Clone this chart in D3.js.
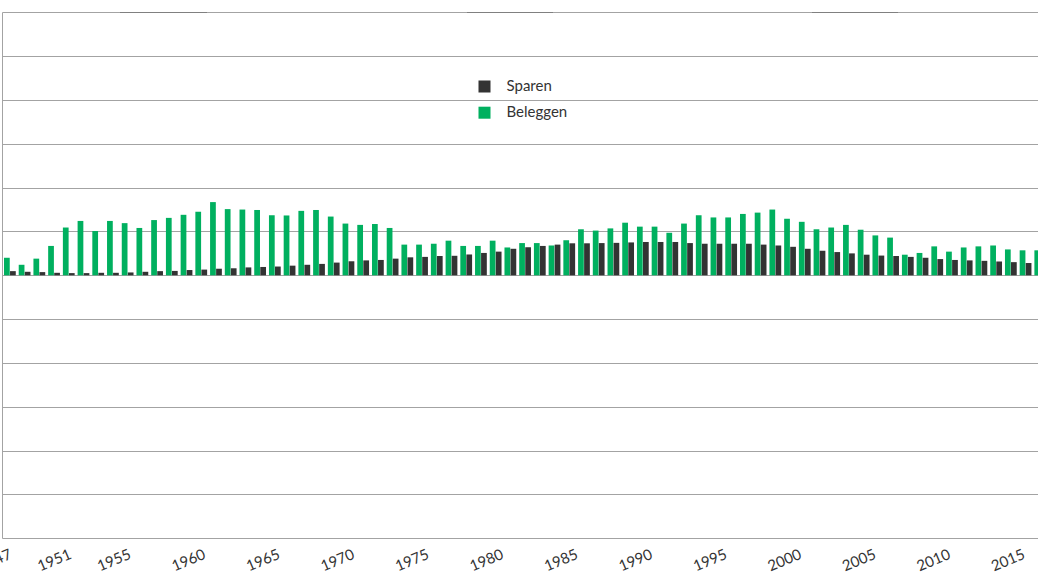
<!DOCTYPE html>
<html>
<head>
<meta charset="utf-8">
<script src="https://cdn.jsdelivr.net/npm/d3@7"></script>
<style>
  html, body { margin: 0; padding: 0; background: #fff; }
  svg { display: block; }
</style>
</head>
<body>
<svg id="chart" width="1038" height="576"></svg>
<script>
// ---- data ----
const years = [1947,1948,1949,1950,1951,1952,1953,1954,1955,1956,1957,1958,1959,1960,
  1961,1962,1963,1964,1965,1966,1967,1968,1969,1970,1971,1972,1973,1974,1975,1976,
  1977,1978,1979,1980,1981,1982,1983,1984,1985,1986,1987,1988,1989,1990,1991,1992,
  1993,1994,1995,1996,1997,1998,1999,2000,2001,2002,2003,2004,2005,2006,2007,2008,
  2009,2010,2011,2012,2013,2014,2015,2016,2017];
const sparen = [0.95,0.8,0.73,0.57,0.5,0.5,0.57,0.57,0.65,0.8,0.95,1.0,1.2,1.3,1.5,1.6,1.8,1.9,
  2.0,2.2,2.4,2.6,2.9,3.2,3.4,3.5,3.8,4.1,4.2,4.4,4.45,4.75,5.1,5.4,6.05,6.4,6.7,7.0,7.3,7.3,
  7.35,7.4,7.5,7.6,7.6,7.6,7.35,7.2,7.2,7.2,7.2,7.0,6.8,6.5,6.05,5.6,5.3,5.0,4.7,4.5,4.4,4.2,
  4.0,3.7,3.5,3.4,3.3,3.15,3.0,2.8,2.7];
const beleggen = [4.0,2.4,3.8,6.7,10.9,12.4,10.1,12.4,11.9,10.8,12.6,13.1,13.8,14.5,16.7,15.1,
  15.0,14.9,13.7,13.65,14.7,14.9,13.4,11.8,11.5,11.7,10.8,7.0,7.0,7.2,7.9,6.7,6.7,7.9,6.35,
  7.35,7.35,6.8,8.0,10.5,10.2,10.7,12.0,11.1,11.1,9.7,11.8,13.7,13.2,13.2,14.0,14.3,15.0,12.9,
  12.2,10.5,10.9,11.5,10.4,9.1,8.6,4.7,5.1,6.6,5.4,6.35,6.6,6.8,5.9,5.7,5.7];
const seriesNames = ["Beleggen", "Sparen"];
const legendNames = ["Sparen", "Beleggen"];
const tickYears = [1947,1951,1955,1960,1965,1970,1975,1980,1985,1990,1995,2000,2005,2010,2015];
const yTicks = [-60,-50,-40,-30,-20,-10,0,10,20,30,40,50,60];

// ---- style ----
const colors = { Sparen: "#333333", Beleggen: "#00b05f" };
const gridColor = "#a3a3a3";

const svg = d3.select("#chart");

// scales
const plotTop = 12.3, plotBottom = 538.3, plotLeft = 2.5, plotRight = 1038;
const y = d3.scaleLinear().domain([-60, 60]).range([plotBottom, plotTop]);

const step = 14.72, padIn = 0.18;
const x0 = d3.scaleBand().domain(years)
  .range([4, 4 + step * (years.length - padIn)])
  .paddingInner(padIn).paddingOuter(0);
const x1 = d3.scaleBand().domain(seriesNames).range([0, x0.bandwidth()]).padding(0);

const xYear = d3.scaleLinear().domain([1960, 2015]).range([206, 206 + 55 * 14.9]);

// grid
svg.append("g").selectAll("line").data(yTicks).join("line")
  .attr("x1", plotLeft).attr("x2", plotRight)
  .attr("y1", d => Math.round(y(d)) + 0.5).attr("y2", d => Math.round(y(d)) + 0.5)
  .attr("stroke", gridColor).attr("stroke-width", 1);
svg.append("line")
  .attr("x1", plotLeft).attr("x2", plotLeft)
  .attr("y1", Math.round(y(60)) + 0.5).attr("y2", Math.round(y(-60)) + 0.5)
  .attr("stroke", gridColor).attr("stroke-width", 1);
// darker segments on the top rule
const topSegs = [[120, 207], [467, 553], [812, 898]];
svg.append("g").selectAll("line").data(topSegs).join("line")
  .attr("x1", d => d[0]).attr("x2", d => d[1])
  .attr("y1", Math.round(y(60)) + 0.5).attr("y2", Math.round(y(60)) + 0.5)
  .attr("stroke", "#808080").attr("stroke-width", 1);

// bars
const rows = years.map((yr, i) => ({ year: yr, Sparen: sparen[i], Beleggen: beleggen[i] }));
const groups = svg.append("g").selectAll("g").data(rows).join("g")
  .attr("transform", d => `translate(${x0(d.year)},0)`);
groups.selectAll("rect")
  .data(d => seriesNames.map(k => ({ key: k, value: d[k] })))
  .join("rect")
  .attr("x", d => x1(d.key))
  .attr("width", x1.bandwidth() - 0.3)
  .attr("y", d => y(Math.max(0, d.value)))
  .attr("height", d => Math.abs(y(d.value) - y(0)))
  .attr("fill", d => colors[d.key]);

// x axis labels
const axis = d3.axisBottom(xYear).tickValues(tickYears).tickSize(0).tickFormat(d3.format("d"));
const ax = svg.append("g").attr("transform", "translate(0,558)").call(axis);
ax.select(".domain").remove();
ax.selectAll("text")
  .attr("y", 0).attr("dy", 0)
  .attr("text-anchor", "end")
  .attr("transform", "rotate(-23)")
  .attr("fill", "#333")
  .style("font-family", "Lato, 'Open Sans', sans-serif")
  .style("font-size", "15px");

// legend
const legend = svg.append("g").attr("transform", "translate(478.5,80.5)");
const li = legend.selectAll("g").data(legendNames).join("g")
  .attr("transform", (d, i) => `translate(0,${i * 26.2})`);
li.append("rect").attr("width", 12).attr("height", 12).attr("fill", d => colors[d]);
li.append("text").attr("x", 28).attr("y", 10.5).text(d => d)
  .attr("fill", "#333")
  .style("font-family", "Lato, 'Open Sans', sans-serif")
  .style("font-size", "15px");
</script>
</body>
</html>
